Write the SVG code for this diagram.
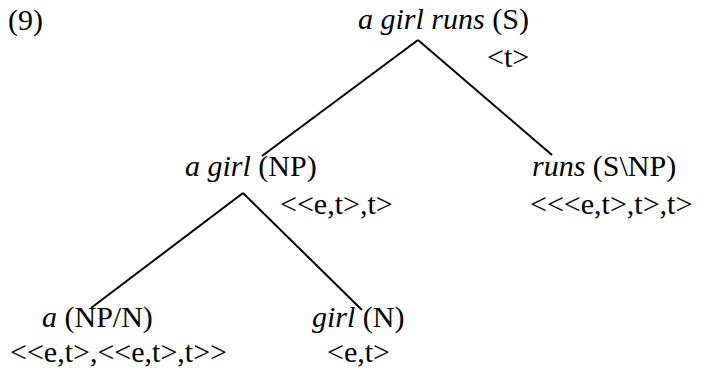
<svg xmlns="http://www.w3.org/2000/svg" width="705" height="368" viewBox="0 0 705 368">
<style>
.i{font-style:italic}
.t{font-family:'Liberation Serif','Times New Roman',serif;font-size:30px;fill:#000}
.e{stroke:#000;stroke-width:2;fill:none}
</style>
<rect width="705" height="368" fill="#fff"/>
<text class="t" font-family="Liberation Serif" x="8" y="30">(9)</text>
<g id="connectors">
<path class="e" d="M418 40 L262 156"/>
<path class="e" d="M418 40 L552 155"/>
<path class="e" d="M243 193 L91 308"/>
<path class="e" d="M243 193 L362 310"/>
</g>
<g id="S">
<text class="t" font-family="Liberation Serif" x="358" y="29"><tspan class="i">a girl runs</tspan> (S)</text>
<text class="t" font-family="Liberation Serif" x="487" y="67">&lt;t&gt;</text>
</g>
<g id="NP">
<text class="t" font-family="Liberation Serif" x="185" y="176"><tspan class="i">a girl</tspan> (NP)</text>
<text class="t" font-family="Liberation Serif" x="280" y="214">&lt;&lt;e,t&gt;,t&gt;</text>
</g>
<g id="SNP">
<text class="t" font-family="Liberation Serif" x="532" y="176"><tspan class="i">runs</tspan> (S&#92;NP)</text>
<text class="t" font-family="Liberation Serif" x="530" y="214">&lt;&lt;&lt;e,t&gt;,t&gt;,t&gt;</text>
</g>
<g id="a">
<text class="t" font-family="Liberation Serif" x="42" y="327"><tspan class="i">a</tspan> (NP/N)</text>
<text class="t" font-family="Liberation Serif" x="10" y="362">&lt;&lt;e,t&gt;,&lt;&lt;e,t&gt;,t&gt;&gt;</text>
</g>
<g id="girl">
<text class="t" font-family="Liberation Serif" x="312" y="327"><tspan class="i">girl</tspan> (N)</text>
<text class="t" font-family="Liberation Serif" x="327" y="362">&lt;e,t&gt;</text>
</g>
</svg>
